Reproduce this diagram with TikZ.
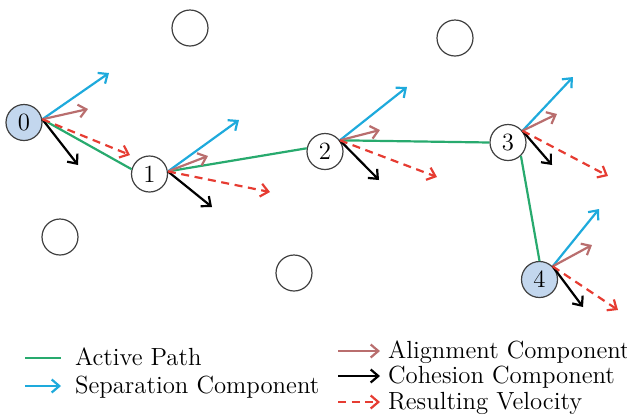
\documentclass[tikz,border=0pt]{standalone}
\usetikzlibrary{arrows.meta}
\definecolor{pathgreen}{RGB}{40,170,110}
\definecolor{sepblue}{RGB}{30,170,220}
\definecolor{alignbrown}{RGB}{185,110,110}
\definecolor{velred}{RGB}{230,60,50}
\definecolor{agentfill}{RGB}{195,215,238}
\begin{document}
\begin{tikzpicture}[x=0.5pt,y=-0.5pt, font=\fontsize{12.4}{14}\selectfont,
  agent/.style={circle,draw=black!75,line width=0.6pt,minimum size=18pt,inner sep=0pt,fill=white},
  lead/.style={agent,fill=agentfill},
  vec/.style={line width=1.1pt,-{Straight Barb[length=3.8pt,width=6.5pt]}},
  sepv/.style={vec,sepblue},
  aliv/.style={vec,alignbrown},
  cohv/.style={vec,black},
  resv/.style={vec,velred,dash pattern=on 4pt off 2.8pt},
  act/.style={pathgreen,line width=1.1pt},
  legtext/.style={anchor=base west}]
\useasboundingbox (0,0) rectangle (627,414);

% other agents
\node[agent] (e1) at (190,28) {};
\node[agent] (e2) at (455,38) {};
\node[agent] (e3) at (60,237) {};
\node[agent] (e4) at (294,273) {};

% path agents
\node[lead]  (n0) at (24,122.5) {0};
\node[agent] (n1) at (149.5,174) {1};
\node[agent] (n2) at (325,151.5) {2};
\node[agent] (n3) at (508,142.5) {3};
\node[lead]  (n4) at (539.5,279.5) {4};

% active path
\draw[act] (n0.10) -- (n1.165);
\draw[act] (n1.8) -- (n2.170);
\draw[act] (n2.37) -- (n3.west);
\draw[act] (n3.-46) -- (n4.north);

% vector end points
\coordinate (b0) at (109,73);  \coordinate (a0) at (88,109);  \coordinate (r0) at (130,155); \coordinate (c0) at (78,165);
\coordinate (b1) at (239,120); \coordinate (a1) at (208,156); \coordinate (r1) at (270,192); \coordinate (c1) at (212,207);
\coordinate (b2) at (407,87);  \coordinate (a2) at (380,130); \coordinate (r2) at (437,177); \coordinate (c2) at (379,180);
\coordinate (b3) at (573,77);  \coordinate (a3) at (557,114); \coordinate (r3) at (608,176); \coordinate (c3) at (552,165);
\coordinate (b4) at (599,209); \coordinate (a4) at (592,245); \coordinate (r4) at (618,310); \coordinate (c4) at (583,307);

\foreach \n/\ang in {0/10,1/8,2/37,3/39,4/45}{
  \draw[sepv] (n\n.\ang) -- (b\n);
  \draw[aliv] (n\n.\ang) -- (a\n);
  \draw[cohv] (n\n.\ang) -- (c\n);
  \draw[resv] (n\n.\ang) -- (r\n);
}

% legend
\coordinate (l1a) at (25,358);  \coordinate (l1b) at (61,358);
\coordinate (l2a) at (25,386);  \coordinate (l2b) at (61,386);
\coordinate (l3a) at (338,351); \coordinate (l3b) at (380,351);
\coordinate (l4a) at (338,376); \coordinate (l4b) at (380,376);
\coordinate (l5a) at (338,402); \coordinate (l5b) at (380,402);
\draw[act]  (l1a) -- (l1b);
\draw[sepv] (l2a) -- (l2b);
\draw[aliv] (l3a) -- (l3b);
\draw[cohv] (l4a) -- (l4b);
\draw[resv] (l5a) -- (l5b);
\node[legtext] (t1) at (68,365) {Active Path};
\node[legtext] (t2) at (68,393) {Separation Component};
\node[legtext] (t3) at (381,358) {Alignment Component};
\node[legtext] (t4) at (381,383) {Cohesion Component};
\node[legtext] (t5) at (381,409) {Resulting Velocity};
\end{tikzpicture}
\end{document}
